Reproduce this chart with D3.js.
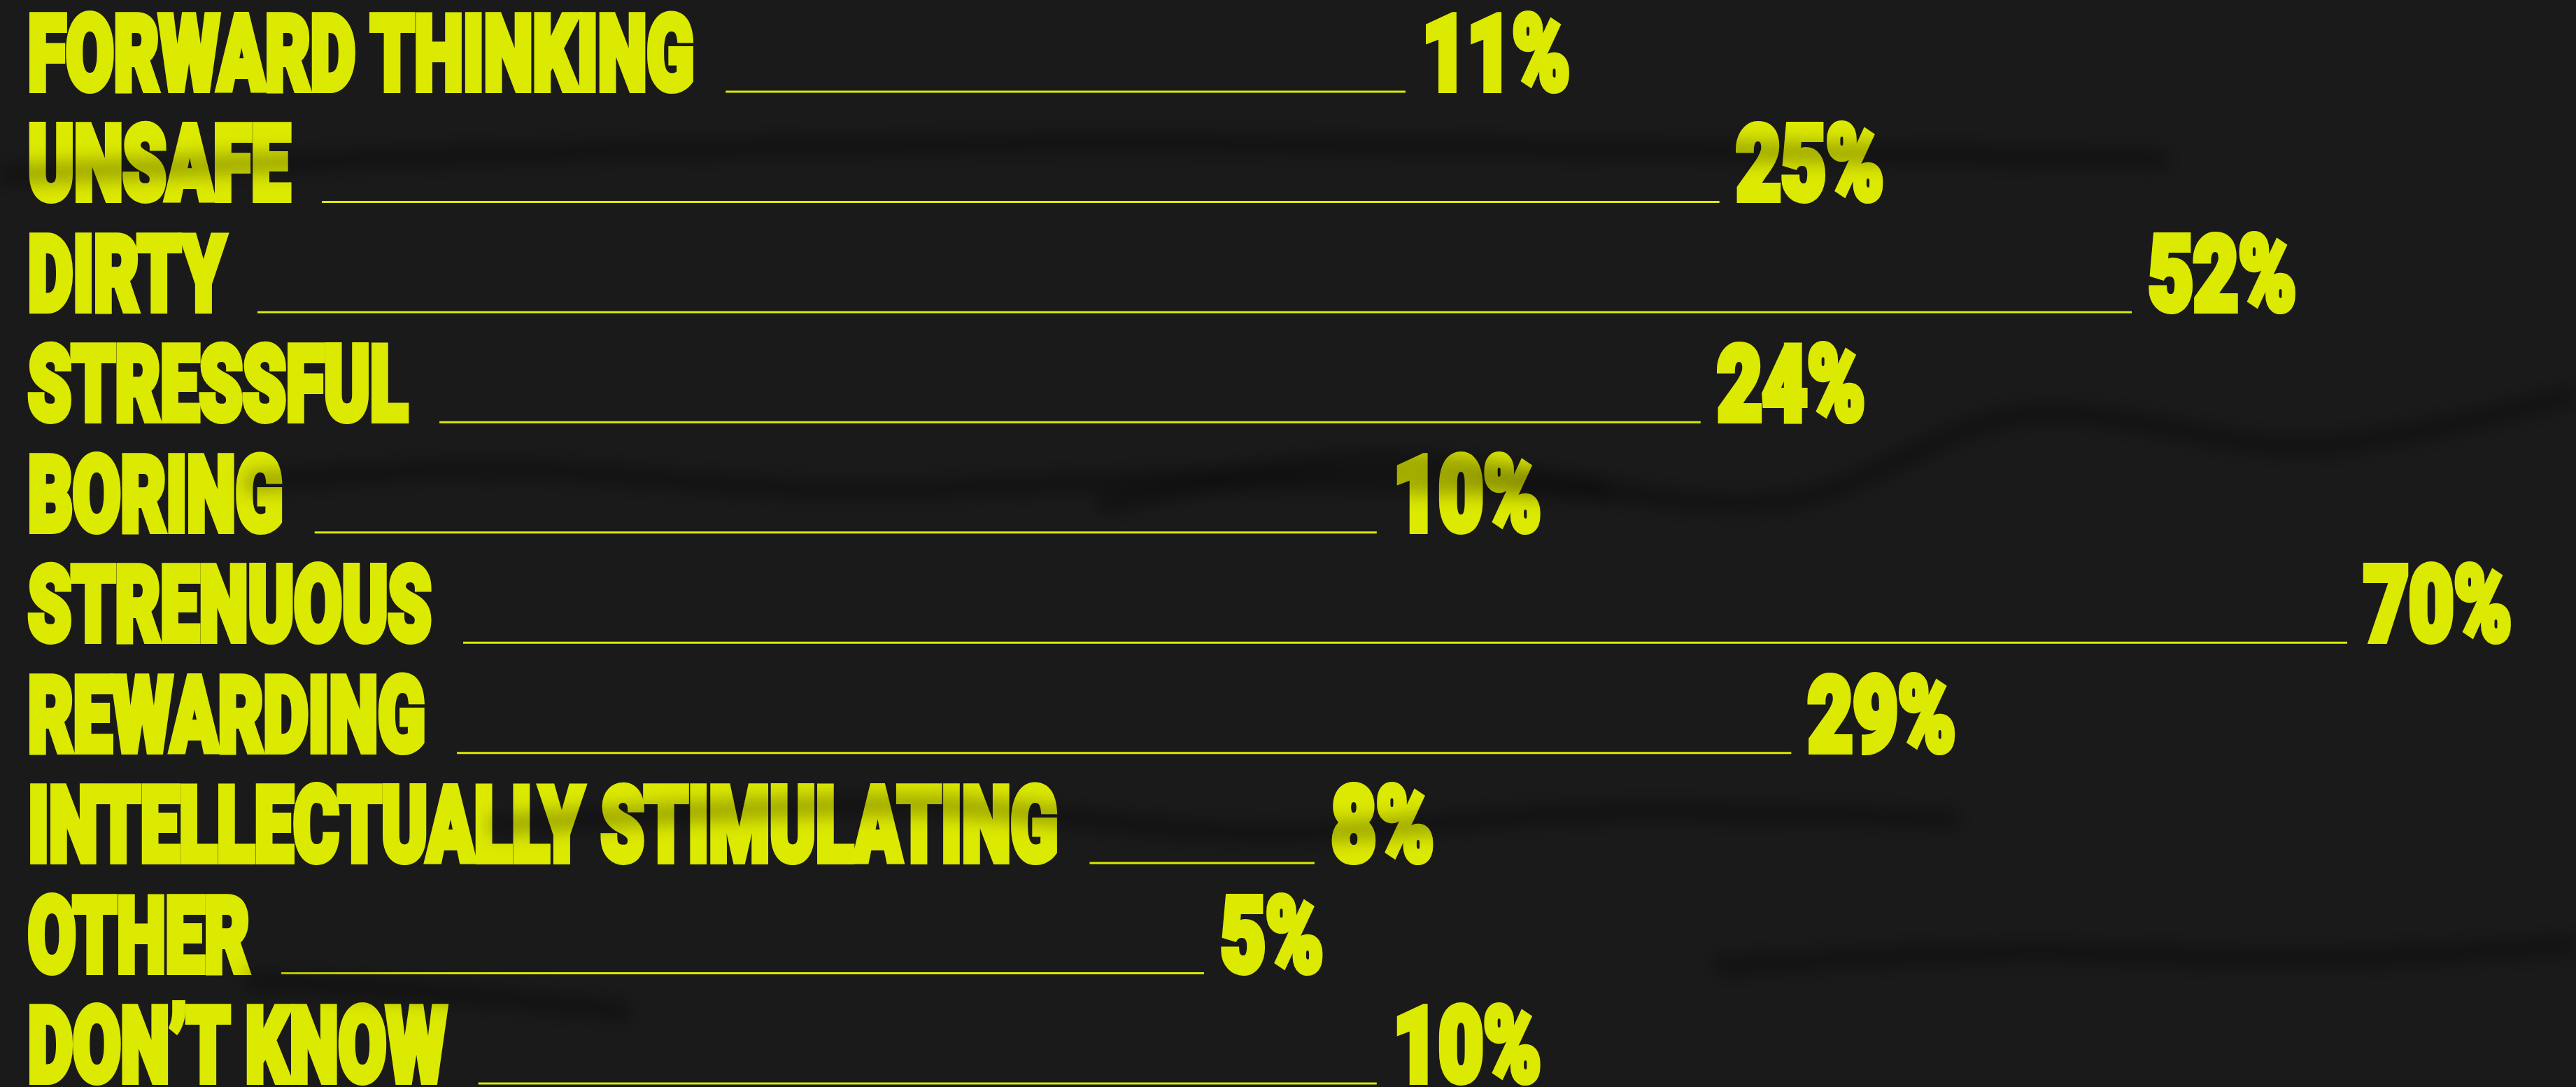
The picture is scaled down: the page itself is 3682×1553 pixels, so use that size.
<!DOCTYPE html>
<html>
<head>
<meta charset="utf-8">
<script src="https://cdn.jsdelivr.net/npm/d3@7"></script>
<style>
  html, body { margin: 0; padding: 0; background: #1a1a1a; }
  svg { display: block; }
</style>
</head>
<body>
<div id="chart"></div>
<script>
// answers, top to bottom
const categories = ["FORWARD THINKING", "UNSAFE", "DIRTY", "STRESSFUL", "BORING",
                    "STRENUOUS", "REWARDING", "INTELLECTUALLY STIMULATING", "OTHER", "DON\u2019T KNOW"];
const values = [11, 25, 52, 24, 10, 70, 29, 8, 5, 10];

const W = 3682, H = 1553;
const yellow = "#dce900";
const fontSize = 148, strokeW = 10;
const squeeze = 0.67, squeezePct = 0.75;

const svg = d3.select("#chart").append("svg")
  .attr("width", W).attr("height", H);

const defs = svg.append("defs");
defs.append("filter").attr("id", "blur")
  .attr("x", "-10%").attr("y", "-100%").attr("width", "120%").attr("height", "300%")
  .append("feGaussianBlur").attr("stdDeviation", 13);

svg.append("rect").attr("width", W).attr("height", H).attr("fill", "#1a1a1a");

// row baselines
const y = d3.scalePoint().domain(categories).range([128, 1545]);
// line end: designer's lengths follow roughly a square root of the share
const x = d3.scaleSqrt().domain([0, 70]).range([1125, 3355]);

const rows = svg.append("g").selectAll("g")
  .data(categories.map((c, i) => ({ name: c, value: values[i] })))
  .join("g")
  .attr("transform", d => "translate(40," + y(d.name) + ")");

const txt = (sel, sq) => sel
  .attr("fill", yellow)
  .attr("stroke", yellow)
  .attr("stroke-width", strokeW)
  .attr("stroke-linejoin", "miter")
  .style("font-family", "Roboto, 'DejaVu Sans', sans-serif")
  .style("font-weight", 900)
  .style("font-size", fontSize + "px")
  .attr("transform", "scale(" + sq + ",1)");

const labels = rows.append("text").text(d => d.name).call(txt, squeeze);

labels.each(function(d) {
  const w = this.getBBox().width * squeeze + strokeW * squeeze / 2;
  const g = d3.select(this.parentNode);
  const x0 = w + 42;
  const x1 = x(d.value) - 40;
  g.append("line")
    .attr("x1", x0).attr("x2", x1)
    .attr("y1", 3).attr("y2", 3)
    .attr("stroke", yellow).attr("stroke-width", 3);
  g.append("text")
    .attr("x", (x1 + 20 + strokeW * squeezePct / 2) / squeezePct)
    .text(d.value + "%")
    .call(txt, squeezePct);
});

// creases in the paper
const creases = [
  [[0, 250], [400, 232], [900, 215], [1600, 205], [2400, 215], [3100, 228]],
  [[1570, 723], [1960, 657], [2544, 717], [2890, 593], [3309, 637], [3682, 563]],
  [[350, 690], [700, 670], [1200, 700], [1700, 685], [2300, 700]],
  [[700, 1180], [1300, 1150], [1800, 1190], [2300, 1160], [2800, 1170]],
  [[2450, 1380], [2900, 1360], [3300, 1370], [3682, 1350]],
  [[350, 1400], [650, 1420], [900, 1445]]
];
const line = d3.line().curve(d3.curveCatmullRom);
svg.append("g").attr("filter", "url(#blur)")
  .selectAll("path").data(creases).join("path")
  .attr("d", line)
  .attr("fill", "none")
  .attr("stroke", "#000")
  .attr("stroke-opacity", 0.3)
  .attr("stroke-width", 28);
</script>
</body>
</html>
